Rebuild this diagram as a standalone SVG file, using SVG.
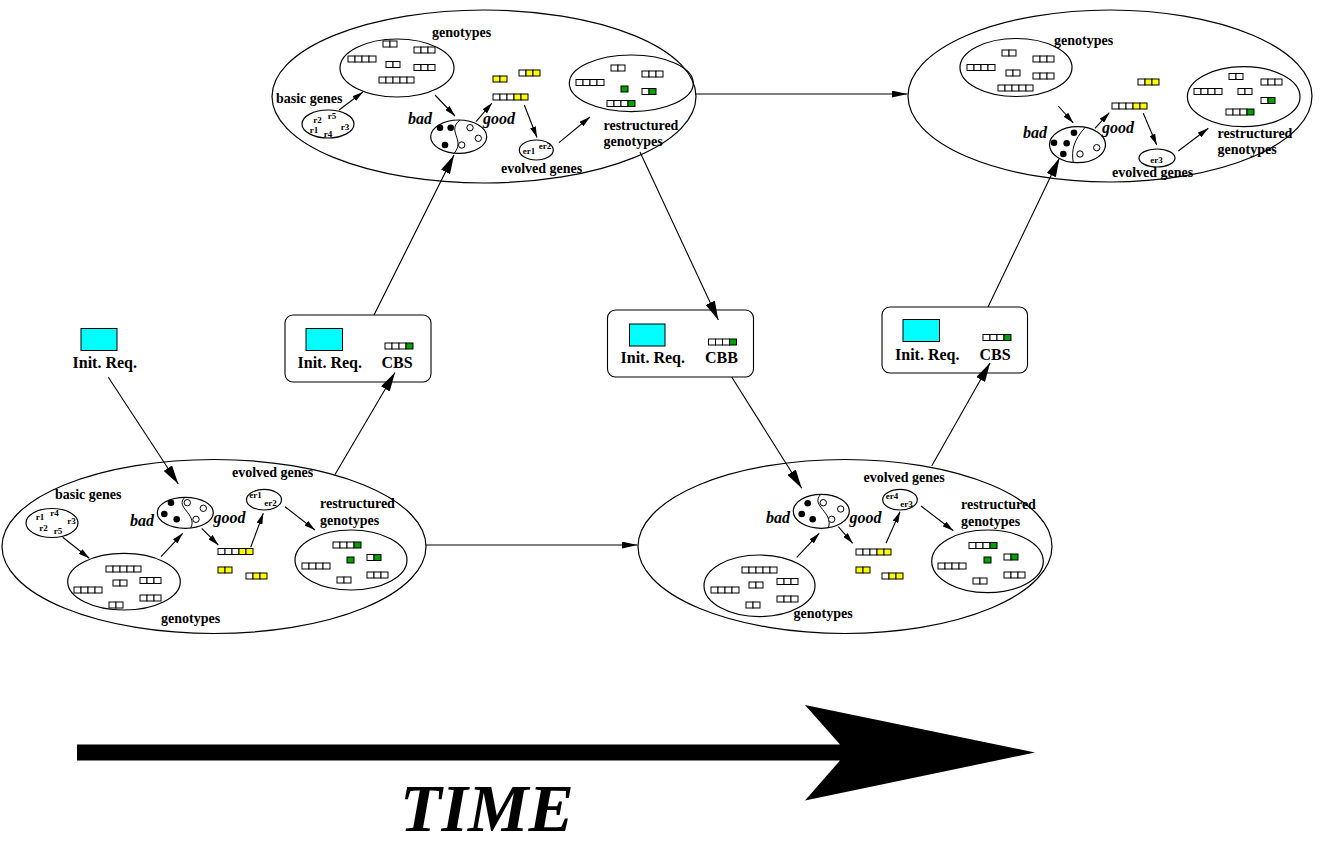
<svg xmlns="http://www.w3.org/2000/svg" width="1340" height="846" viewBox="0 0 1340 846">
<style>
text{font-family:"Liberation Serif","Times New Roman",serif;font-weight:bold;fill:#000}
.l{font-size:14px}
.b{font-size:16px}
.i{font-size:16px;font-style:italic}
.r{font-size:9px;text-anchor:middle}
.o{fill:none;stroke:#000;stroke-width:1.2}
.box{fill:#fff;stroke:#000;stroke-width:1.1}
.cy{fill:#00ffff;stroke:#000;stroke-width:1}
.cw{fill:#fff;stroke:#000;stroke-width:1}
.cyl{fill:#ffff00;stroke:#000;stroke-width:1}
.cg{fill:#00a000;stroke:#000;stroke-width:1}
.dv{fill:none;stroke:#000;stroke-width:1}
.df{fill:#000}
.do{fill:#fff;stroke:#000;stroke-width:1}
#conn line{stroke:#000;stroke-width:1.1;fill:none}
.s{marker-end:url(#as)}
.m{marker-end:url(#am)}
.g{marker-end:url(#al)}
</style>
<defs>
<marker id="as" markerUnits="userSpaceOnUse" markerWidth="11" markerHeight="6" refX="11" refY="3" orient="auto"><path d="M0,0 L11,3 L0,6 z"/></marker>
<marker id="am" markerUnits="userSpaceOnUse" markerWidth="16" markerHeight="7" refX="16" refY="3.5" orient="auto"><path d="M0,0 L16,3.5 L0,7 z"/></marker>
<marker id="al" markerUnits="userSpaceOnUse" markerWidth="19" markerHeight="10" refX="19" refY="5" orient="auto"><path d="M0,0 L19,5 L0,10 z"/></marker>
<g id="b2"><rect class="cw" x="0" y="0" width="7" height="6"/><rect class="cw" x="7" y="0" width="7" height="6"/></g>
<g id="b3"><use href="#b2"/><rect class="cw" x="14" y="0" width="7" height="6"/></g>
<g id="b4"><use href="#b3"/><rect class="cw" x="21" y="0" width="7" height="6"/></g>
<g id="b5"><use href="#b4"/><rect class="cw" x="28" y="0" width="7" height="6"/></g>
<g id="y2"><rect class="cyl" x="0" y="0" width="7" height="6"/><rect class="cyl" x="7" y="0" width="7" height="6"/></g>
<g id="y3"><rect class="cw" x="0" y="0" width="7" height="6"/><use href="#y2" x="7"/></g>
<g id="y5"><use href="#b3"/><use href="#y2" x="21"/></g>
<rect id="g1" class="cg" x="0" y="0" width="7" height="6"/>
<g id="g2"><rect class="cw" x="0" y="0" width="7" height="6"/><use href="#g1" x="7"/></g>
<g id="g4"><use href="#b3"/><use href="#g1" x="21"/></g>
</defs>

<rect width="1340" height="846" fill="#fff"/>

<!-- Top-center population -->
<g id="pop-top-1">
<ellipse class="o" cx="484" cy="96.5" rx="212" ry="86.5"/>
<g id="t1-genotypes">
<ellipse class="o" cx="397" cy="68" rx="57" ry="29"/>
<text class="l" x="432" y="37">genotypes</text>
<use href="#b2" x="383" y="41"/><use href="#b3" x="414" y="47"/><use href="#b4" x="348" y="56"/>
<use href="#b2" x="386" y="61.5"/><use href="#b3" x="414" y="64.5"/><use href="#b5" x="379" y="77"/>
</g>
<g id="t1-basic">
<ellipse class="o" cx="328" cy="124" rx="26" ry="14"/>
<text class="l" x="276" y="103">basic genes</text>
<text class="r" x="317.5" y="122.5">r2</text><text class="r" x="332" y="119">r5</text>
<text class="r" x="314" y="132.5">r1</text><text class="r" x="328" y="137">r4</text><text class="r" x="345" y="130">r3</text>
</g>
<g id="t1-badgood">
<ellipse class="o" cx="458.7" cy="136.7" rx="28" ry="16.7"/>
<path class="dv" d="M460,120 C446,131 466,140 454,153.3"/>
<circle class="df" cx="440" cy="127.7" r="3.3"/><circle class="df" cx="450.7" cy="127.7" r="3.3"/><circle class="df" cx="445" cy="145" r="3.3"/>
<circle class="do" cx="470" cy="127.7" r="3.2"/><circle class="do" cx="478.3" cy="138.3" r="3.2"/><circle class="do" cx="461.7" cy="145" r="3.2"/>
<text class="i" x="408" y="124">bad</text><text class="i" x="483" y="124">good</text>
</g>
<g id="t1-good-genes">
<use href="#y2" x="493" y="76"/><use href="#y3" x="519" y="70"/><use href="#y5" x="493" y="94"/>
</g>
<g id="t1-evolved">
<ellipse class="o" cx="536.3" cy="150" rx="17" ry="10"/>
<text class="r" x="529" y="154">er1</text><text class="r" x="545" y="149">er2</text>
<text class="l" x="501" y="173">evolved genes</text>
</g>
<g id="t1-restructured">
<ellipse class="o" cx="631.3" cy="83.3" rx="62" ry="28.3"/>
<use href="#b2" x="611" y="65"/><use href="#b3" x="642" y="71"/><use href="#b4" x="576" y="79.5"/>
<use href="#g1" x="621" y="86"/><use href="#g2" x="642" y="88.5"/><use href="#g4" x="607" y="100.5"/>
<text class="l" x="603.5" y="130">restructured</text><text class="l" x="603.5" y="146">genotypes</text>
</g>
</g>

<!-- Top-right population -->
<g id="pop-top-2">
<ellipse class="o" cx="1110" cy="96" rx="202" ry="86"/>
<g id="t2-genotypes">
<ellipse class="o" cx="1016" cy="67.5" rx="56" ry="29"/>
<text class="l" x="1054" y="45">genotypes</text>
<use href="#b2" x="1002" y="50"/><use href="#b3" x="1033" y="56"/><use href="#b4" x="967" y="64.5"/>
<use href="#b2" x="1006" y="70"/><use href="#b3" x="1033" y="73"/><use href="#b5" x="998" y="85"/>
</g>
<g id="t2-badgood">
<ellipse class="o" cx="1077.5" cy="144.7" rx="28" ry="18"/>
<path class="dv" d="M1085,127.5 C1074,140 1071,150 1073.3,162.6"/>
<circle class="df" cx="1074" cy="132.7" r="3.3"/><circle class="df" cx="1054" cy="142.7" r="3.3"/><circle class="df" cx="1066.7" cy="143.3" r="3.3"/><circle class="df" cx="1063.3" cy="154" r="3.3"/>
<circle class="do" cx="1096.7" cy="147.7" r="3.2"/><circle class="do" cx="1080" cy="154" r="3.2"/>
<text class="i" x="1023" y="138">bad</text><text class="i" x="1102" y="133">good</text>
</g>
<g id="t2-good-genes">
<use href="#y3" x="1138" y="79"/><use href="#y5" x="1112" y="103"/>
</g>
<g id="t2-evolved">
<ellipse class="o" cx="1157" cy="158" rx="18" ry="9"/>
<text class="r" x="1156.5" y="163">er3</text>
<text class="l" x="1112" y="177">evolved genes</text>
</g>
<g id="t2-restructured">
<ellipse class="o" cx="1243.7" cy="96.7" rx="56.3" ry="30"/>
<use href="#b2" x="1229" y="73.5"/><use href="#b3" x="1261" y="79"/><use href="#b4" x="1194" y="88.5"/>
<use href="#b2" x="1238" y="88.5"/><use href="#g2" x="1261" y="97.5"/><use href="#g4" x="1226" y="109"/>
<text class="l" x="1217.5" y="138">restructured</text><text class="l" x="1217.5" y="154">genotypes</text>
</g>
</g>

<!-- Bottom-left population -->
<g id="pop-bottom-1">
<ellipse class="o" cx="214" cy="546.5" rx="212" ry="87"/>
<g id="b1-basic">
<ellipse class="o" cx="52" cy="523" rx="26" ry="14.5"/>
<text class="l" x="55" y="499">basic genes</text>
<text class="r" x="40" y="520">r1</text><text class="r" x="54.5" y="516">r4</text><text class="r" x="71.5" y="523.5">r3</text>
<text class="r" x="43.5" y="530.5">r2</text><text class="r" x="58" y="534">r5</text>
</g>
<g id="b1-genotypes">
<ellipse class="o" cx="124" cy="581.7" rx="56.3" ry="28.3"/>
<use href="#b5" x="106" y="566"/><use href="#b2" x="113" y="580"/><use href="#b3" x="140" y="577.5"/>
<use href="#b4" x="74" y="587"/><use href="#b3" x="140" y="595"/><use href="#b2" x="109" y="602"/>
<text class="l" x="161" y="623">genotypes</text>
</g>
<g id="b1-badgood">
<ellipse class="o" cx="185.3" cy="512.8" rx="28" ry="15.5"/>
<path class="dv" d="M185,497.3 C174,507 198,514 190.7,528.2"/>
<circle class="df" cx="171" cy="502.7" r="3.3"/><circle class="df" cx="164.3" cy="514" r="3.3"/><circle class="df" cx="176.7" cy="519.3" r="3.3"/>
<circle class="do" cx="187.3" cy="502.7" r="3.2"/><circle class="do" cx="203.3" cy="508.3" r="3.2"/><circle class="do" cx="196" cy="519.3" r="3.2"/>
<text class="i" x="130" y="526">bad</text><text class="i" x="213.5" y="522.5">good</text>
</g>
<g id="b1-good-genes">
<use href="#y5" x="218" y="548.5"/><use href="#y2" x="218" y="567"/><use href="#y3" x="246" y="573"/>
</g>
<g id="b1-evolved">
<ellipse class="o" cx="264" cy="499.7" rx="17.5" ry="10.3"/>
<text class="r" x="255.5" y="498">er1</text><text class="r" x="270.5" y="505.5">er2</text>
<text class="l" x="232" y="477">evolved genes</text>
</g>
<g id="b1-restructured">
<ellipse class="o" cx="351" cy="560" rx="56" ry="30"/>
<use href="#g4" x="333" y="542"/><use href="#g1" x="347" y="557"/><use href="#g2" x="367" y="554.5"/>
<use href="#b4" x="302" y="563"/><use href="#b2" x="337" y="577"/><use href="#b3" x="367" y="572"/>
<text class="l" x="320" y="508">restructured</text><text class="l" x="320" y="525">genotypes</text>
</g>
</g>

<!-- Bottom-right population -->
<g id="pop-bottom-2">
<ellipse class="o" cx="845" cy="546.5" rx="207" ry="87"/>
<g id="b2-evolved">
<ellipse class="o" cx="900" cy="499.7" rx="17.3" ry="10.3"/>
<text class="r" x="892" y="499">er4</text><text class="r" x="906.5" y="506.5">er3</text>
<text class="l" x="863.5" y="482">evolved genes</text>
</g>
<g id="b2-badgood">
<ellipse class="o" cx="821.3" cy="511.3" rx="28" ry="17"/>
<path class="dv" d="M820.7,494.4 C810,506 834,512 828.3,528"/>
<circle class="df" cx="807.7" cy="503.3" r="3.3"/><circle class="df" cx="801.7" cy="514" r="3.3"/><circle class="df" cx="812.7" cy="519.3" r="3.3"/>
<circle class="do" cx="823.3" cy="502.7" r="3.2"/><circle class="do" cx="840.7" cy="509" r="3.2"/><circle class="do" cx="831.7" cy="519.3" r="3.2"/>
<text class="i" x="766" y="522.5">bad</text><text class="i" x="849.5" y="522.5">good</text>
</g>
<g id="b2-genotypes">
<ellipse class="o" cx="759.5" cy="585.8" rx="55.5" ry="30.8"/>
<use href="#b5" x="742" y="567"/><use href="#b2" x="749" y="582"/><use href="#b3" x="777" y="578.5"/>
<use href="#b4" x="711" y="587"/><use href="#b3" x="777" y="596"/><use href="#b2" x="746" y="602"/>
<text class="l" x="793.5" y="618">genotypes</text>
</g>
<g id="b2-good-genes">
<use href="#y5" x="856" y="549"/><use href="#y2" x="856" y="567"/><use href="#y3" x="882" y="573"/>
</g>
<g id="b2-restructured">
<ellipse class="o" cx="987.5" cy="561.3" rx="55.8" ry="31.3"/>
<use href="#g4" x="969" y="542.5"/><use href="#g1" x="984" y="557"/><use href="#g2" x="1004" y="554"/>
<use href="#b4" x="938" y="563"/><use href="#b2" x="973" y="578"/><use href="#b3" x="1004" y="572"/>
<text class="l" x="961" y="509">restructured</text><text class="l" x="961" y="526">genotypes</text>
</g>
</g>

<!-- Requirement nodes -->
<g id="init-req">
<rect class="cy" x="81" y="328.5" width="36" height="22"/>
<text class="b" x="72.5" y="368">Init. Req.</text>
</g>
<g id="req-cbs-1">
<rect class="box" x="285" y="315" width="146" height="67" rx="8"/>
<rect class="cy" x="306" y="328.5" width="36.5" height="22"/>
<text class="b" x="297.5" y="368">Init. Req.</text>
<use href="#g4" x="385" y="343"/>
<text class="b" x="381.5" y="368">CBS</text>
</g>
<g id="req-cbb">
<rect class="box" x="607.5" y="310" width="146" height="67" rx="8"/>
<rect class="cy" x="629.5" y="324" width="35.5" height="22"/>
<text class="b" x="620.5" y="363">Init. Req.</text>
<use href="#g4" x="708.5" y="339"/>
<text class="b" x="705" y="363">CBB</text>
</g>
<g id="req-cbs-2">
<rect class="box" x="882" y="307" width="145.5" height="66" rx="8"/>
<rect class="cy" x="903" y="319.5" width="36.5" height="22"/>
<text class="b" x="895" y="360">Init. Req.</text>
<use href="#g4" x="983" y="334.5"/>
<text class="b" x="979.5" y="360">CBS</text>
</g>

<!-- Connectors -->
<g id="conn">
<line class="s" x1="339" y1="110" x2="363" y2="92"/>
<line class="s" x1="435" y1="95" x2="455" y2="116"/>
<line class="s" x1="476" y1="121.7" x2="492" y2="103"/>
<line class="s" x1="524.3" y1="105" x2="537" y2="137.5"/>
<line class="s" x1="559" y1="142.7" x2="590" y2="117"/>
<line class="s" x1="1058.3" y1="106" x2="1073.3" y2="123"/>
<line class="s" x1="1095" y1="128.3" x2="1109.3" y2="112.7"/>
<line class="s" x1="1143.3" y1="113.3" x2="1156.7" y2="145"/>
<line class="s" x1="1178.3" y1="151" x2="1208.3" y2="128.3"/>
<line class="s" x1="62.7" y1="537.3" x2="89.3" y2="558.3"/>
<line class="s" x1="161" y1="556.7" x2="182.7" y2="533.3"/>
<line class="s" x1="201.7" y1="528.3" x2="218.3" y2="545"/>
<line class="s" x1="250.7" y1="547.3" x2="263.3" y2="513.3"/>
<line class="s" x1="285" y1="506.7" x2="315" y2="530"/>
<line class="s" x1="796.7" y1="557.3" x2="819.3" y2="533.3"/>
<line class="s" x1="838.3" y1="526.7" x2="852.7" y2="543.3"/>
<line class="s" x1="886" y1="543.3" x2="900" y2="511.7"/>
<line class="s" x1="921" y1="506" x2="953.3" y2="530.7"/>
<line class="m" x1="426" y1="545" x2="637.5" y2="545"/>
<line class="m" x1="695.5" y1="94" x2="907.5" y2="94"/>
<line class="g" x1="108.3" y1="377.3" x2="178.3" y2="484"/>
<line class="g" x1="335" y1="474.5" x2="395" y2="372.5"/>
<line class="g" x1="374" y1="315" x2="454" y2="155"/>
<line class="g" x1="640" y1="152" x2="718.3" y2="320"/>
<line class="g" x1="731.7" y1="377" x2="801.7" y2="488.3"/>
<line class="g" x1="931.7" y1="466" x2="990" y2="363"/>
<line class="g" x1="988" y1="307" x2="1059.5" y2="158"/>
</g>

<!-- Time axis -->
<g id="time-axis">
<path d="M77,744.5 L840,744.5 L805,705 L1035,752.5 L805,800.5 L840,760.5 L77,760.5 Z" fill="#000"/>
<text x="400" y="831" style="font-size:68px;font-style:italic">TIME</text>
</g>
</svg>
